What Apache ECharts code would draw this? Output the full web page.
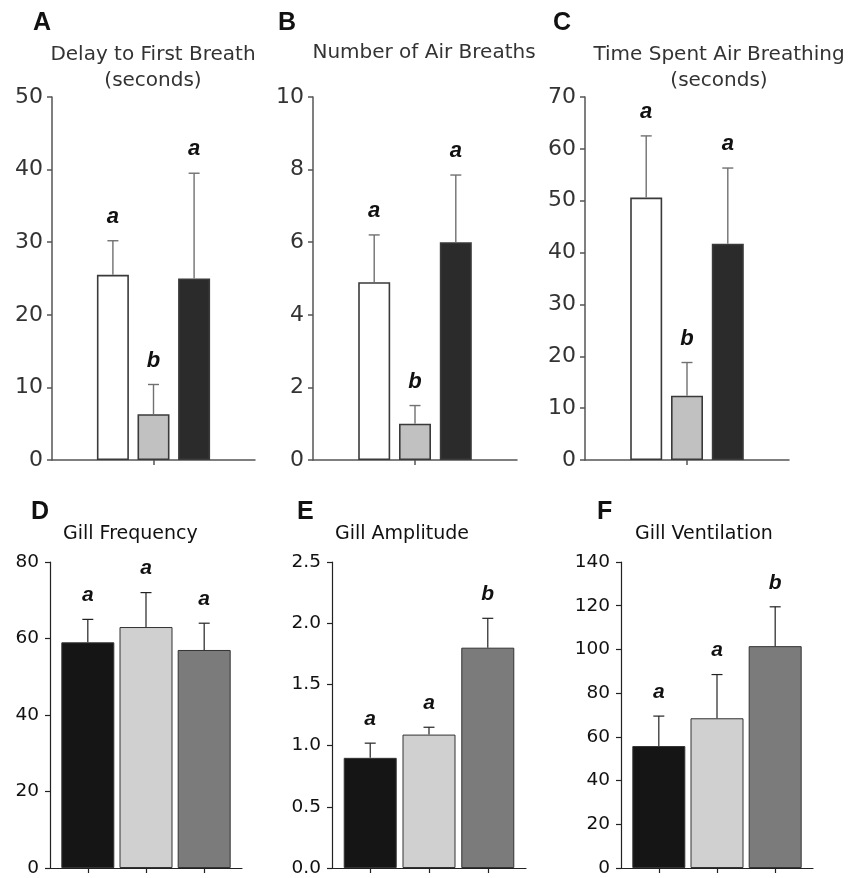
<!DOCTYPE html>
<html>
<head>
<meta charset="utf-8">
<script src="https://cdn.jsdelivr.net/npm/echarts@6/dist/echarts.min.js"></script>
<style>html,body{margin:0;padding:0;background:#fff}#c{width:861px;height:878px}</style>
</head>
<body>
<div id="c"></div>
<script>
// ---- data ----
const groups = ['Group 1', 'Group 2', 'Group 3'];
const panelLetters = ['A', 'B', 'C', 'D', 'E', 'F'];
const panelTitles = ['Delay to First Breath\n(seconds)', 'Number of Air Breaths', 'Time Spent Air Breathing\n(seconds)', 'Gill Frequency', 'Gill Amplitude', 'Gill Ventilation'];

const delayMean = [25.5, 6.3, 25.0];
const delayUpper = [30.2, 10.4, 39.5];
const delayLetters = ['a', 'b', 'a'];

const breathsMean = [4.9, 1.0, 6.0];
const breathsUpper = [6.2, 1.5, 7.85];
const breathsLetters = ['a', 'b', 'a'];

const timeMean = [50.6, 12.4, 41.7];
const timeUpper = [62.5, 18.8, 56.3];
const timeLetters = ['a', 'b', 'a'];

const freqMean = [59, 63, 57];
const freqUpper = [65, 72, 64];
const freqLetters = ['a', 'a', 'a'];

const ampMean = [0.90, 1.09, 1.80];
const ampUpper = [1.02, 1.15, 2.04];
const ampLetters = ['a', 'a', 'b'];

const ventMean = [55.8, 68.5, 101.5];
const ventUpper = [69.5, 88.5, 119.5];
const ventLetters = ['a', 'a', 'b'];

const yMax = [50, 10, 70, 80, 2.5, 140];
const yInterval = [10, 2, 10, 20, 0.5, 20];

// ---- styles ----
const topColors = ['#ffffff', '#c0c1c0', '#2b2b2b'];
const bottomColors = ['#151515', '#d0d0d0', '#7b7b7b'];
const FONT = '"DejaVu Sans", sans-serif';

const means = [delayMean, breathsMean, timeMean, freqMean, ampMean, ventMean];
const uppers = [delayUpper, breathsUpper, timeUpper, freqUpper, ampUpper, ventUpper];
const letters = [delayLetters, breathsLetters, timeLetters, freqLetters, ampLetters, ventLetters];

const grids = [
  {left: 52, top: 97, width: 203, height: 363},
  {left: 313, top: 97, width: 204, height: 363},
  {left: 585, top: 97, width: 204, height: 363},
  {left: 50, top: 562, width: 192, height: 306},
  {left: 332, top: 562, width: 194, height: 306},
  {left: 621, top: 562, width: 192, height: 306}
];

const xAxes = [], yAxes = [], series = [], titles = [];
for (let p = 0; p < 6; p++) {
  const top = p < 3;
  const axisColor = top ? '#555' : '#222';
  const labelColor = top ? '#333' : '#111';
  xAxes.push({
    gridIndex: p, type: 'value',
    min: top ? -0.5 : 0.35, max: top ? 4.5 : 3.65,
    axisLine: {show: true, onZero: false, lineStyle: {color: axisColor, width: top ? 1.5 : 1.2}},
    axisTick: {show: true, length: 5, lineStyle: {color: axisColor, width: top ? 1.5 : 1.2},
               customValues: top ? [2] : groups.map((g, i) => i + 1)},
    axisLabel: {show: false},
    splitLine: {show: false}
  });
  yAxes.push({
    gridIndex: p, type: 'value', min: 0, max: yMax[p], interval: yInterval[p],
    axisLine: {show: true, onZero: false, lineStyle: {color: axisColor, width: top ? 1.5 : 1.2}},
    axisTick: {show: true, length: 5, lineStyle: {color: axisColor, width: top ? 1.5 : 1.2}},
    axisLabel: {
      color: labelColor, fontFamily: FONT, fontSize: top ? 22 : 18.5, margin: top ? 9 : 11,
      formatter: p === 4 ? (v => v.toFixed(1)) : (v => String(v))
    },
    splitLine: {show: false}
  });
  const colors = top ? topColors : bottomColors;
  series.push({
    type: 'bar', xAxisIndex: p, yAxisIndex: p,
    barWidth: top ? 32 : 53,
    data: means[p].map((v, i) => ({
      value: [i + 1, v],
      itemStyle: {color: colors[i], borderColor: top ? '#3a3a3a' : '#333', borderWidth: top ? 1.6 : 1}
    })),
    silent: true
  });
  const lets = letters[p];
  const errColor = top ? '#707070' : '#222';
  const lw = top ? 1.4 : 1.2;
  const letterFont = 'italic bold ' + (top ? 22 : 21) + 'px "Liberation Sans", Arial, sans-serif';
  series.push({
    type: 'custom', xAxisIndex: p, yAxisIndex: p, clip: false, z: 5,
    encode: {x: 0, y: [1, 2]},
    data: means[p].map((v, i) => [i + 1, v, uppers[p][i]]),
    renderItem: function (params, api) {
      const x = api.value(0), m = api.value(1), e = api.value(2);
      const p0 = api.coord([x, m]);
      const p1 = api.coord([x, e]);
      const cap = 5.5;
      return {
        type: 'group',
        children: [
          {type: 'line', shape: {x1: p0[0], y1: p0[1], x2: p1[0], y2: p1[1]}, style: {stroke: errColor, lineWidth: lw}},
          {type: 'line', shape: {x1: p1[0] - cap, y1: p1[1], x2: p1[0] + cap, y2: p1[1]}, style: {stroke: errColor, lineWidth: lw}},
          {type: 'text', style: {text: lets[params.dataIndex], x: p1[0], y: p1[1] - 24, font: letterFont,
            textAlign: 'center', textVerticalAlign: 'middle', fill: '#111'}}
        ]
      };
    },
    silent: true
  });
}

// panel letters
const letterPos = [[33, 11], [278, 11], [553, 11], [31, 500], [297, 500], [597, 500]];
panelLetters.forEach((L, i) => {
  titles.push({
    text: L, left: letterPos[i][0], top: letterPos[i][1], padding: 0,
    textStyle: {fontFamily: '"Liberation Sans", Arial, sans-serif', fontWeight: 'bold', fontSize: 25, color: '#111', lineHeight: 25}
  });
});
// panel titles
const titlePos = [[153, 42, 'center'], [424, 40, 'center'], [719, 42, 'center'], [63, 523, 'left'], [335, 523, 'left'], [635, 523, 'left']];
panelTitles.forEach((t, i) => {
  const top = i < 3;
  titles.push({
    text: t, left: titlePos[i][0], top: titlePos[i][1], textAlign: titlePos[i][2], padding: 0,
    textStyle: {fontFamily: FONT, fontWeight: 'normal', fontSize: top ? 20 : 19, color: top ? '#333' : '#111', lineHeight: top ? 26 : 22}
  });
});

const chart = echarts.init(document.getElementById('c'), null, {renderer: 'canvas'});
chart.setOption({
  animation: false,
  backgroundColor: '#ffffff',
  title: titles,
  grid: grids,
  xAxis: xAxes,
  yAxis: yAxes,
  series: series
});
</script>
</body>
</html>
